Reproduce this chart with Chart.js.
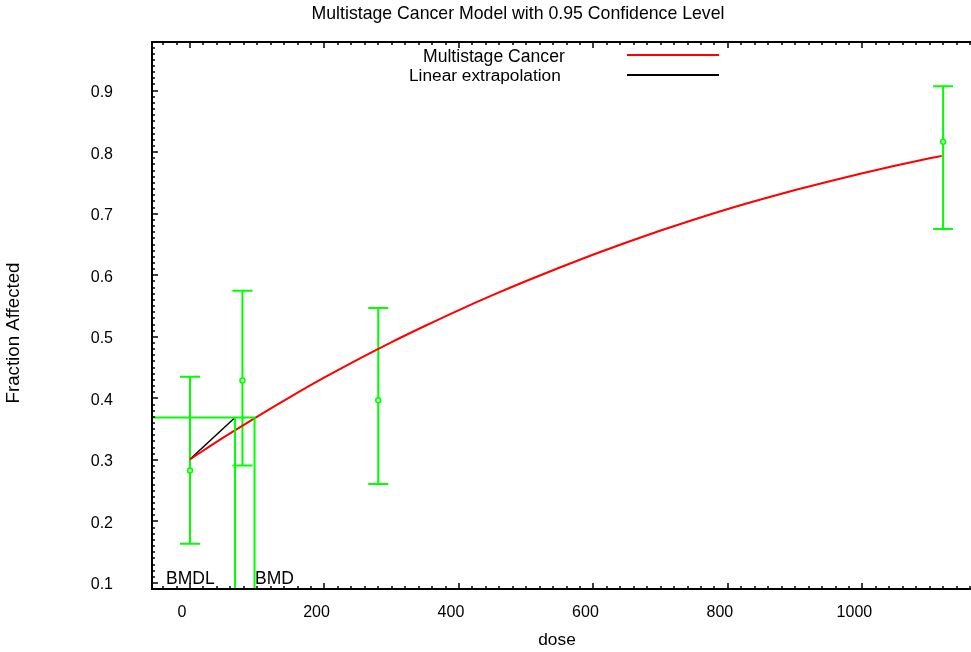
<!DOCTYPE html>
<html>
<head>
<meta charset="utf-8">
<title>Multistage Cancer Model</title>
<script src="https://cdn.jsdelivr.net/npm/chart.js@4.4.0/dist/chart.umd.min.js"></script>
<style>
  html, body { margin: 0; padding: 0; background: #fff; }
  #wrap { width: 971px; height: 652px; }
</style>
</head>
<body>
<div id="wrap"><canvas id="chart" width="971" height="652"></canvas></div>
<script>
// observed dose groups with 95% confidence limits
const doseGroups = [0, 78, 280, 1120];
const fracObserved = [0.283, 0.429, 0.397, 0.817];
const fracLower = [0.164, 0.291, 0.261, 0.675];
const fracUpper = [0.435, 0.575, 0.547, 0.907];

// fitted multistage curve
const curveDose = [0, 50, 100, 150, 200, 250, 300, 350, 400, 450, 500, 550, 600,
    650, 700, 750, 800, 850, 900, 950, 1000, 1050, 1100, 1118];
const curveFrac = [0.301, 0.3365, 0.3705, 0.403, 0.434, 0.4635, 0.4915, 0.518, 0.5435,
    0.5677, 0.5907, 0.6127, 0.6337, 0.6537, 0.6727, 0.6907, 0.7077, 0.7235, 0.7385,
    0.7525, 0.7657, 0.7782, 0.790, 0.794];

// benchmark dose markers
const bmdl = 67;
const bmd = 96;
const bmrFrac = 0.369;
const bgFrac = 0.301;

const xTicks = [0, 200, 400, 600, 800, 1000];
const yTicks = [0.1, 0.2, 0.3, 0.4, 0.5, 0.6, 0.7, 0.8, 0.9];
const xRange = [-56.5, 1161.5];
const yRange = [0.0903, 0.979];

const green = '#00ff00';
const fontFamily = '"Liberation Sans", Arial, sans-serif';

Chart.defaults.font.family = fontFamily;
Chart.defaults.font.size = 16;
Chart.defaults.color = '#000';

// error bars go under the markers
const errorBars = {
    id: 'errorBars',
    beforeDatasetsDraw(chart) {
        const { ctx, scales: { x, y } } = chart;
        ctx.save();
        ctx.strokeStyle = green;
        ctx.lineWidth = 2;
        doseGroups.forEach((d, i) => {
            const px = x.getPixelForValue(d);
            const lo = y.getPixelForValue(fracLower[i]);
            const hi = y.getPixelForValue(fracUpper[i]);
            ctx.beginPath();
            ctx.moveTo(px, lo); ctx.lineTo(px, hi);
            ctx.moveTo(px - 10, lo); ctx.lineTo(px + 10, lo);
            ctx.moveTo(px - 10, hi); ctx.lineTo(px + 10, hi);
            ctx.stroke();
        });
        ctx.restore();
    }
};

// frame, inward ticks and all the free text
const frame = {
    id: 'frame',
    afterDraw(chart) {
        const { ctx, chartArea: a, scales: { x, y } } = chart;
        ctx.save();
        ctx.strokeStyle = '#000';
        ctx.lineWidth = 2;
        ctx.beginPath();
        ctx.moveTo(a.right, a.top); ctx.lineTo(a.left, a.top);
        ctx.lineTo(a.left, a.bottom); ctx.lineTo(a.right, a.bottom);
        ctx.stroke();

        ctx.lineWidth = 1.5;
        ctx.beginPath();
        for (let k = 10; k <= 97; k++) {
            const py = Math.round(y.getPixelForValue(k / 100));
            const len = k % 10 === 0 ? 6 : 3;
            ctx.moveTo(a.left, py); ctx.lineTo(a.left + len, py);
        }
        for (let d = -40; d <= 1160; d += 20) {
            const px = Math.round(x.getPixelForValue(d));
            const len = d % 200 === 0 ? 6 : 3;
            ctx.moveTo(px, a.bottom); ctx.lineTo(px, a.bottom - len);
            ctx.moveTo(px, a.top); ctx.lineTo(px, a.top + len);
        }
        ctx.stroke();

        ctx.fillStyle = '#000';
        ctx.textBaseline = 'middle';
        ctx.textAlign = 'center';
        ctx.font = '17.7px ' + fontFamily;
        ctx.fillText('Multistage Cancer Model with 0.95 Confidence Level', 518, 14);
        ctx.font = '17.3px ' + fontFamily;
        ctx.fillText('dose', 557, 640);
        ctx.save();
        ctx.translate(14, 333);
        ctx.rotate(-Math.PI / 2);
        ctx.font = '18.7px ' + fontFamily;
        ctx.fillText('Fraction Affected', 0, 0);
        ctx.restore();

        // legend
        ctx.textAlign = 'left';
        ctx.font = '17.6px ' + fontFamily;
        ctx.fillText('Multistage Cancer', 423, 57);
        ctx.font = '17.3px ' + fontFamily;
        ctx.fillText('Linear extrapolation', 409, 76);
        ctx.lineWidth = 2;
        ctx.strokeStyle = '#ff0000';
        ctx.beginPath(); ctx.moveTo(627, 55); ctx.lineTo(719, 55); ctx.stroke();
        ctx.strokeStyle = '#000';
        ctx.beginPath(); ctx.moveTo(627, 75); ctx.lineTo(719, 75); ctx.stroke();

        // benchmark labels
        ctx.font = '17.5px ' + fontFamily;
        ctx.textBaseline = 'alphabetic';
        ctx.fillText('BMDL', 166, 584);
        ctx.fillText('BMD', 255, 584);
        ctx.restore();
    }
};

const ctx = document.getElementById('chart').getContext('2d');
new Chart(ctx, {
    type: 'scatter',
    data: {
        datasets: [
            {
                label: 'BMD',
                data: [{ x: xRange[0], y: bmrFrac }, { x: bmd, y: bmrFrac }, { x: bmd, y: yRange[0] }],
                showLine: true,
                borderColor: green,
                borderWidth: 2,
                pointRadius: 0
            },
            {
                label: 'BMDL',
                data: [{ x: bmdl, y: bmrFrac }, { x: bmdl, y: yRange[0] }],
                showLine: true,
                borderColor: green,
                borderWidth: 2,
                pointRadius: 0
            },
            {
                label: 'Multistage Cancer',
                data: curveDose.map((d, i) => ({ x: d, y: curveFrac[i] })),
                showLine: true,
                borderColor: '#ff0000',
                borderWidth: 2,
                pointRadius: 0,
                cubicInterpolationMode: 'monotone'
            },
            {
                label: 'Linear extrapolation',
                data: [{ x: 0, y: bgFrac }, { x: bmdl, y: bmrFrac }],
                showLine: true,
                borderColor: '#000',
                borderWidth: 1.5,
                pointRadius: 0
            },
            {
                label: 'Observed',
                data: doseGroups.map((d, i) => ({ x: d, y: fracObserved[i] })),
                pointRadius: 2.5,
                pointBackgroundColor: '#b8ffb8',
                pointBorderColor: green,
                pointBorderWidth: 1.5
            }
        ]
    },
    options: {
        responsive: false,
        animation: false,
        layout: { autoPadding: false, padding: { top: 42, left: 0, right: 0, bottom: 0 } },
        plugins: {
            legend: { display: false },
            title: { display: false },
            tooltip: { enabled: false }
        },
        scales: {
            x: {
                type: 'linear',
                min: xRange[0],
                max: xRange[1],
                afterBuildTicks: s => { s.ticks = xTicks.map(v => ({ value: v })); },
                afterFit: s => { s.height = 63; s.paddingLeft = 0; s.paddingRight = 0; },
                grid: { display: false, drawTicks: false },
                border: { display: false },
                ticks: {
                    padding: 14,
                    labelOffset: -8,
                    maxRotation: 0,
                    callback: v => String(v)
                }
            },
            y: {
                type: 'linear',
                min: yRange[0],
                max: yRange[1],
                afterBuildTicks: s => { s.ticks = yTicks.map(v => ({ value: v })); },
                afterFit: s => { s.width = 152; s.paddingTop = 0; s.paddingBottom = 0; },
                grid: { display: false, drawTicks: false },
                border: { display: false },
                ticks: {
                    padding: 39,
                    labelOffset: 2,
                    callback: v => v.toFixed(1)
                }
            }
        }
    },
    plugins: [errorBars, frame]
});
</script>
</body>
</html>
